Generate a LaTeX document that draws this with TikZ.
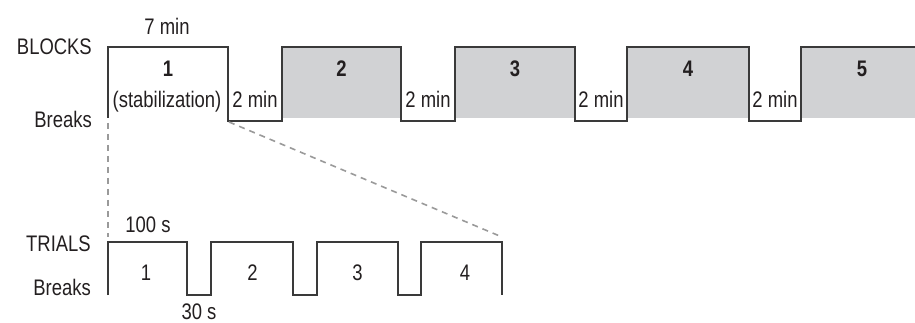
\documentclass[tikz,border=0pt]{standalone}
\usepackage{fontspec}
\setmainfont{Liberation Sans}[FakeStretch=0.82]
\definecolor{inkc}{HTML}{231F20}
\definecolor{linec}{HTML}{3A3A3A}
\definecolor{fillc}{HTML}{D1D2D4}
\definecolor{dashc}{HTML}{9A9A9A}
\begin{document}
\begin{tikzpicture}[x=1pt,y=-1pt,
  lbl/.style={inner sep=0pt,text=inkc,font=\fontsize{22.5}{26}\selectfont},
  num/.style={lbl,font=\fontsize{22.5}{26}\selectfont\bfseries},
  wave/.style={draw=linec,line width=1.6pt,line join=miter},
  zoomline/.style={draw=dashc,line width=1.6pt,dash pattern=on 6pt off 5pt}]
\useasboundingbox (0,0) rectangle (915,323);
% gray filled blocks
\foreach \a/\b in {282/401,455/575,627/749,801/915}
  \fill[fillc] (\a,47) rectangle (\b,118.5);
% top waveform
\draw[wave] (108,118) -- (108,47) -- (228,47) -- (228,121) -- (282,121) -- (282,47)
  -- (401,47) -- (401,121) -- (455,121) -- (455,47) -- (575,47) -- (575,121)
  -- (627,121) -- (627,47) -- (749,47) -- (749,121) -- (801,121) -- (801,47) -- (915,47);
% bottom waveform
\draw[wave] (108,295) -- (108,242) -- (187,242) -- (187,295) -- (211,295) -- (211,242)
  -- (293,242) -- (293,295) -- (317,295) -- (317,242) -- (398,242) -- (398,295)
  -- (421,295) -- (421,242) -- (502,242) -- (502,295);
% zoom connectors
\coordinate (bl) at (108,123);
\coordinate (br) at (229,122);
\coordinate (tl) at (108,237);
\coordinate (tr) at (502,237);
\draw[zoomline] (bl) -- (tl);
\draw[zoomline] (br) -- (tr);
% labels top
\node[lbl,anchor=base east] (blocks) at (92,55) {BLOCKS};
\node[lbl,anchor=base east] (breaks1) at (92,128) {Breaks};
\node[lbl,anchor=base] (sevmin) at (167,35) {7 min};
\node[num,anchor=base] (n1) at (168,77) {1};
\node[num,anchor=base] (n2) at (341.5,77) {2};
\node[num,anchor=base] (n3) at (515,77) {3};
\node[num,anchor=base] (n4) at (688,77) {4};
\node[num,anchor=base] (n5) at (862,77) {5};
\node[lbl,anchor=base] (stab) at (167,108) {(stabilization)};
\node[lbl,anchor=base] (m1) at (255,108) {2 min};
\node[lbl,anchor=base] (m2) at (428,108) {2 min};
\node[lbl,anchor=base] (m3) at (601,108) {2 min};
\node[lbl,anchor=base] (m4) at (775,108) {2 min};
% labels bottom
\node[lbl,anchor=base east] (trials) at (91,251) {TRIALS};
\node[lbl,anchor=base east] (breaks2) at (91,295) {Breaks};
\node[lbl,anchor=base] (hs) at (148,233) {100 s};
\node[lbl,anchor=base] (ts) at (199,319.5) {30 s};
\node[lbl,anchor=base] (t1) at (146,280) {1};
\node[lbl,anchor=base] (t2) at (252.5,280) {2};
\node[lbl,anchor=base] (t3) at (357.5,280) {3};
\node[lbl,anchor=base] (t4) at (465,280) {4};
\end{tikzpicture}
\end{document}
